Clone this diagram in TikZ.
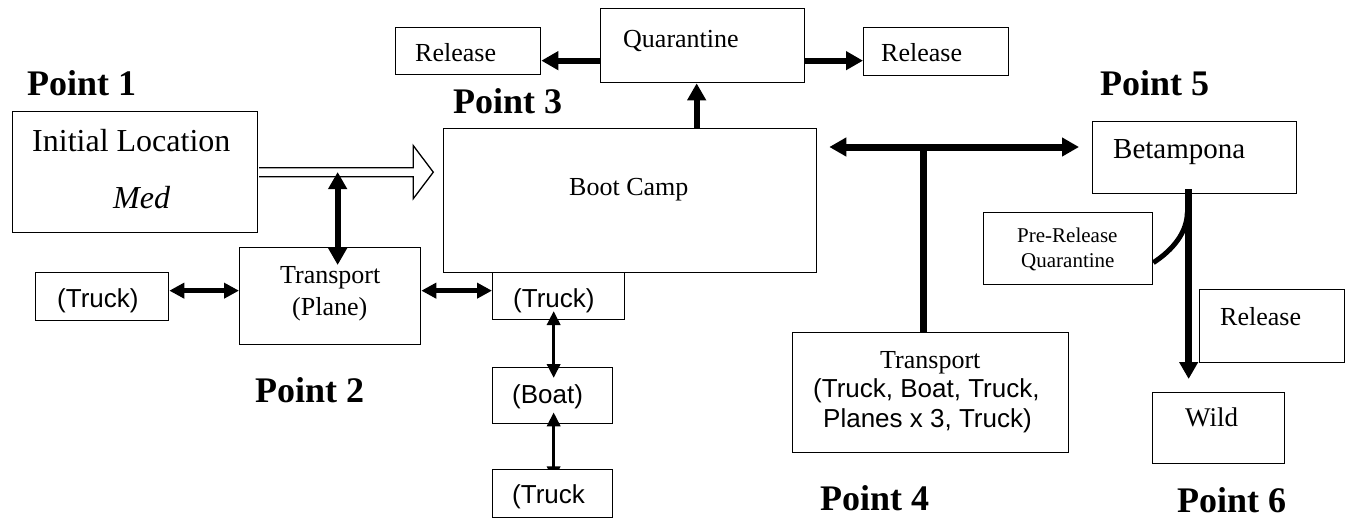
\documentclass[tikz,border=0pt]{standalone}
\usepackage{fontspec}
\setmainfont{Liberation Serif}
\setsansfont{Liberation Sans}
\usetikzlibrary{arrows.meta,calc}
\tikzset{
  hd/.tip={Triangle[length=17pt,width=18pt]},
  sm/.tip={Triangle[length=14pt,width=13pt]},
  md/.tip={Triangle[length=15pt,width=15pt]},
}
\begin{document}
\begin{tikzpicture}[x=1pt,y=-1pt,
  box/.style={draw, line width=1.3pt, fill=white, inner sep=0pt, anchor=north west},
  lbl/.style={anchor=base west, inner sep=0pt},
  pnt/.style={lbl, font=\bfseries\fontsize{36}{40}\selectfont},
  rm/.style={lbl, font=\fontsize{26}{30}\selectfont},
  sf/.style={lbl, font=\sffamily\fontsize{26}{30}\selectfont},
  heavy/.style={line width=6pt},
  mid/.style={line width=4.5pt},
  light/.style={line width=3.5pt},
]
\useasboundingbox (0,0) rectangle (1348,520);

% ---------- boxes ----------
\node[box,minimum width=245pt,minimum height=121pt] (init) at (12,111) {};
\node[box,minimum width=373pt,minimum height=144pt] (boot) at (443,128) {};
\node[box,minimum width=204pt,minimum height=74pt] (quar) at (600,8) {};
\node[box,minimum width=145pt,minimum height=47pt] (relL) at (395,27) {};
\node[box,minimum width=145pt,minimum height=48pt] (relR) at (863,27) {};
\node[box,minimum width=181pt,minimum height=97pt] (plane) at (239,247) {};
\node[box,minimum width=133pt,minimum height=48pt] (truckL) at (35,272) {};
\node[box,minimum width=132pt,minimum height=47pt] (truckM) at (492,272) {};
\node[box,minimum width=120pt,minimum height=56pt] (boat) at (492,367) {};
\node[box,minimum width=276pt,minimum height=120pt] (trans) at (792,332) {};
\node[box,minimum width=204pt,minimum height=72pt] (beta) at (1092,121) {};
\node[box,minimum width=169pt,minimum height=72pt] (prq) at (983,212) {};
\node[box,minimum width=145pt,minimum height=73pt] (relW) at (1199,289) {};
\node[box,minimum width=132pt,minimum height=71pt] (wild) at (1152,392) {};

% ---------- hollow arrow ----------
\draw[line width=1.3pt, fill=white]
  ($(init.east)+(0.7,-4.5)$) -- ++(154.3,0) -- ++(0,-22) -- ++(20,26.5)
  -- ++(-20,26.5) -- ++(0,-22) -- ++(-154.3,0);

% ---------- connectors ----------
\draw[heavy, hd-hd] ($(plane.north)+(7.5,-75)$) -- ($(plane.north)+(7.5,18)$);
\draw[mid, md-md] ($(truckL.east)+(0,-6)$) -- ($(plane.west)+(0,-5.5)$);
\draw[mid, md-md] ($(plane.east)+(0,-5.5)$) -- ($(truckM.west)+(0,-5.5)$);
\draw[light, sm-sm] ($(boat.north)+(1,-56)$) -- ($(boat.north)+(1,11)$);
\draw[light, sm-sm] ($(boat.south)+(1,-12)$) -- ($(boat.south)+(1,56)$);
\node[box,minimum width=120pt,minimum height=48pt] (truckB) at (492,469) {};

\draw[heavy, -hd] ($(quar.west)+(0,15)$) -- ($(relL.east)+(0,9.5)$);
\draw[heavy, -hd] ($(quar.east)+(0,15)$) -- ($(relR.west)+(0,9)$);
\coordinate (qa) at ($(boot.north)+(66.5,0)$);
\draw[heavy, -hd] (qa) -- (qa |- quar.south);

\coordinate (tL) at ($(boot.north east)+(12,19)$);
\coordinate (tR) at ($(beta.west |- tL)+(-13,0)$);
\draw[line width=7pt, hd-hd] (tL) -- (tR);
\coordinate (tS) at ($(trans.north)+(-7,0)$);
\draw[line width=6.5pt] (tS) -- (tS |- tL);

\coordinate (bS) at ($(beta.south)+(-6,-5)$);
\draw[line width=7pt, -hd] (bS) -- ($(wild.north)+(-30,-13)$);
\draw[line width=5pt] ($(prq.east)+(0,14)$) .. controls +(20,-13) and +(0,20) .. ($(prq.north east)+(34,0)$);

% ---------- texts ----------
\node[pnt] (p1) at (27,95) {Point 1};
\node[pnt] (p2) at (255,402) {Point 2};
\node[pnt] (p3) at (453,113) {Point 3};
\node[pnt] (p4) at (820,510) {Point 4};
\node[pnt] (p5) at (1100,95) {Point 5};
\node[pnt] (p6) at (1177,512) {Point 6};

\node[lbl, font=\fontsize{32}{36}\selectfont] (tinit) at (32,151) {Initial Location};
\node[lbl, font=\itshape\fontsize{32}{36}\selectfont] (tmed) at (113,208) {Med};
\node[rm] (tboot) at (569,195) {Boot Camp};
\node[rm] (tquar) at (623,47) {Quarantine};
\node[rm] (trelL) at (415,61) {Release};
\node[rm] (trelR) at (881,61) {Release};
\node[rm] (tpl1) at (280,283) {Transport};
\node[rm] (tpl2) at (292,315) {(Plane)};
\node[sf] (ttl) at (57,307) {(Truck)};
\node[sf] (ttm) at (513,307) {(Truck)};
\node[sf] (tbo) at (512,403) {(Boat)};
\node[sf] (ttb) at (512,503) {(Truck};
\node[rm] (ttr1) at (880,368) {Transport};
\node[sf] (ttr2) at (813,397) {(Truck, Boat, Truck,};
\node[sf] (ttr3) at (823,427) {Planes x 3, Truck)};
\node[lbl, font=\fontsize{29}{33}\selectfont] (tbeta) at (1113,158) {Betampona};
\node[lbl, font=\fontsize{21}{25}\selectfont] (tpr1) at (1017,242) {Pre-Release};
\node[lbl, font=\fontsize{21}{25}\selectfont] (tpr2) at (1021,267) {Quarantine};
\node[rm] (trelW) at (1220,325) {Release};
\node[lbl, font=\fontsize{27}{31}\selectfont] (twild) at (1185,426) {Wild};
\end{tikzpicture}
\end{document}
